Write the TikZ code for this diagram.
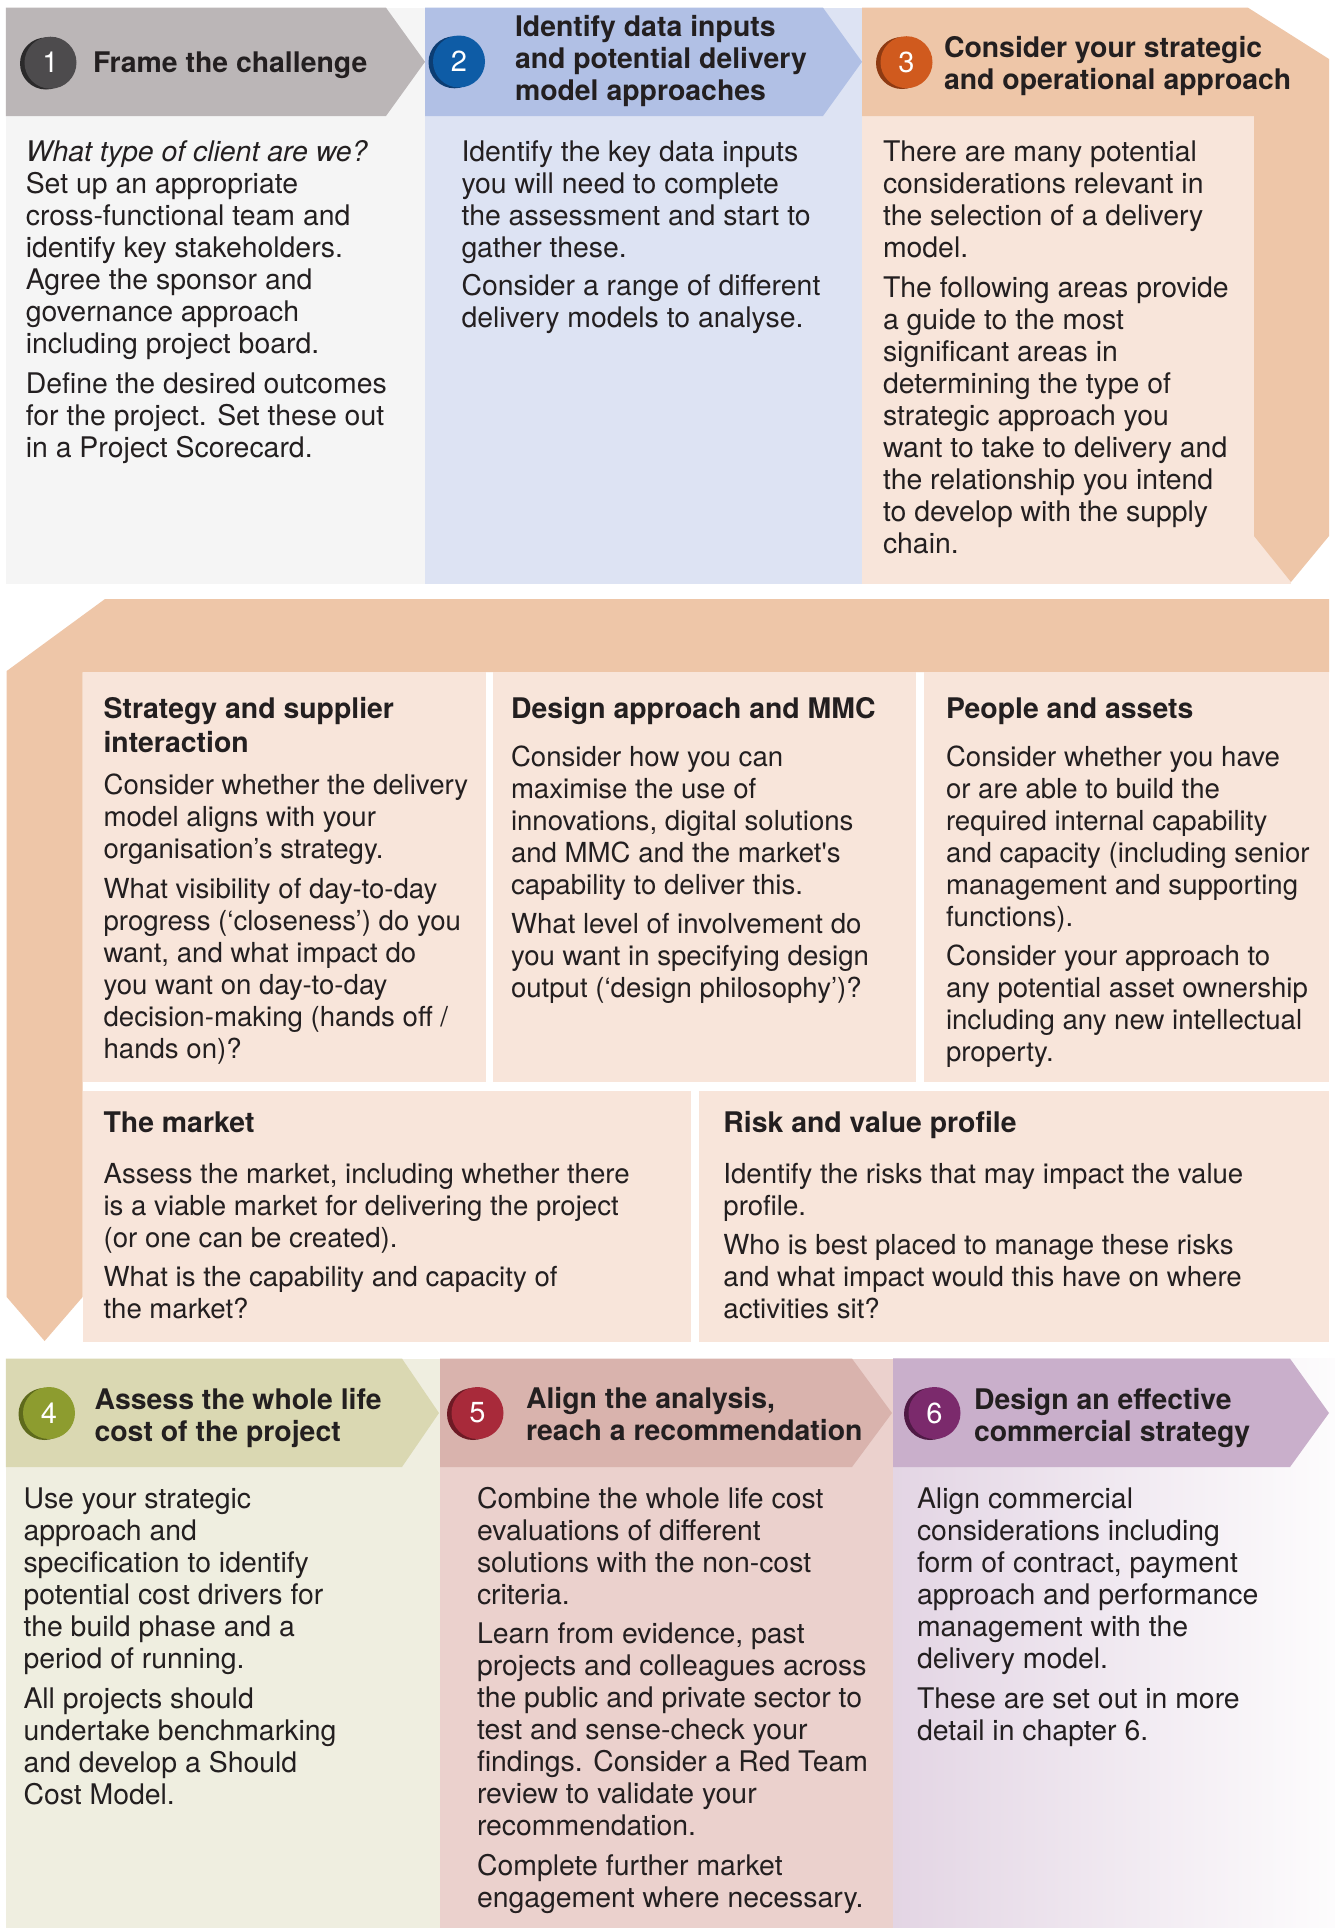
\documentclass[tikz,border=0pt]{standalone}
\usepackage{fontspec}
\setmainfont{TeX Gyre Heros}
\definecolor{ink}{HTML}{231F20}
\definecolor{hdrA}{HTML}{BBB6B7}
\definecolor{bodA}{HTML}{F5F5F5}
\definecolor{cirA}{HTML}{4D4B4D}
\definecolor{shdA}{HTML}{2B2A2B}
\definecolor{hdrB}{HTML}{B1C0E5}
\definecolor{bodB}{HTML}{DDE3F3}
\definecolor{cirB}{HTML}{0E5CA6}
\definecolor{shdB}{HTML}{0C3D73}
\definecolor{tan}{HTML}{EEC6A8}
\definecolor{pale}{HTML}{F8E5DA}
\definecolor{cirC}{HTML}{D05A1E}
\definecolor{shdC}{HTML}{8E3A12}
\definecolor{hdrD}{HTML}{DAD8B2}
\definecolor{bodD}{HTML}{EFEEE0}
\definecolor{cirD}{HTML}{8D9C2F}
\definecolor{shdD}{HTML}{5E6A1C}
\definecolor{hdrE}{HTML}{D9B3AD}
\definecolor{bodE}{HTML}{EBD1CD}
\definecolor{cirE}{HTML}{A82A3A}
\definecolor{shdE}{HTML}{6E1A25}
\definecolor{hdrF}{HTML}{C9AFCB}
\definecolor{bodF}{HTML}{E3D5E4}
\definecolor{bodFr}{HTML}{FDFCFD}
\definecolor{cirF}{HTML}{7B2A6C}
\definecolor{shdF}{HTML}{4F1A45}
\newcommand\bodyfnt{\fontsize{28.4pt}{32pt}\selectfont}
\newcommand\boxfnt{\fontsize{27.6pt}{32pt}\selectfont}
\newcommand\hdrfnt{\fontsize{28.4pt}{32pt}\selectfont\bfseries}
\newcommand\numfnt{\fontsize{29pt}{29pt}\selectfont}
\begin{document}
\begin{tikzpicture}[x=1pt,y=-1pt,
  txt/.style={anchor=north west, inner sep=0pt, outer sep=0pt, align=left, text=ink},
  bodytxt/.style={txt, font=\bodyfnt},
  boxtxt/.style={txt, font=\boxfnt},
  hdrtxt/.style={txt, font=\hdrfnt},
  numc/.style={circle, minimum size=52pt, inner sep=0pt, text=white, font=\numfnt}]
\useasboundingbox (0,0) rectangle (1335,1928);
\fill[white] (0,0) rectangle (1335,1928);

% ---------- top row ----------
\fill[bodA] (5.8,7.7) rectangle (425,583.6);
\fill[hdrA] (5.8,7.7) -- (386,7.7) -- (425,61.8) -- (386,116) -- (5.8,116) -- cycle;
\fill[bodB] (425,7.7) rectangle (862,583.6);
\fill[hdrB] (425,7.7) -- (823,7.7) -- (862,61.8) -- (823,116) -- (425,116) -- cycle;
\fill[pale] (862,116) rectangle (1291,583.6);
\fill[tan] (862,7.7) -- (1248,7.7) -- (1329,59) -- (1329,536) -- (1291,582) -- (1254,536) -- (1254,116) -- (862,116) -- cycle;

% ---------- middle band ----------
\fill[tan] (105,599) -- (1329,599) -- (1329,672) -- (82.6,672) -- (82.6,1297) -- (44.6,1341) -- (6.7,1297) -- (6.7,671) -- cycle;
\fill[pale] (82.6,672) rectangle (485.7,1082);
\fill[pale] (493,672) rectangle (915.6,1082);
\fill[pale] (924,672) rectangle (1329,1082);
\fill[pale] (82.6,1091) rectangle (691,1342);
\fill[pale] (699,1091) rectangle (1329,1342);

% ---------- bottom row ----------
\fill[bodD] (5.8,1358.6) rectangle (440,1928);
\fill[hdrD] (5.8,1358.6) -- (402,1358.6) -- (439,1413) -- (402,1467) -- (5.8,1467) -- cycle;
\fill[bodE] (440,1358.6) rectangle (893,1928);
\fill[hdrE] (440,1358.6) -- (852,1358.6) -- (892,1413) -- (852,1467) -- (440,1467) -- cycle;
\shade[left color=bodF, right color=bodFr] (893,1358.6) rectangle (1335,1928);
\fill[hdrF] (893,1358.6) -- (1290,1358.6) -- (1329,1413) -- (1290,1467) -- (893,1467) -- cycle;

% ---------- number circles ----------
\fill[shdA] (46,63.5) circle (26pt);
\node[numc, fill=cirA] (c1) at (50.5,62.7) {1};
\fill[shdB] (454.5,62.3) circle (26pt);
\node[numc, fill=cirB] (c2) at (459,61.5) {2};
\fill[shdC] (902,63) circle (26pt);
\node[numc, fill=cirC] (c3) at (906.5,62.2) {3};
\fill[shdD] (44.5,1414) circle (26pt);
\node[numc, fill=cirD] (c4) at (49,1413) {4};
\fill[shdE] (473,1414) circle (26pt);
\node[numc, fill=cirE] (c5) at (477.5,1413) {5};
\fill[shdF] (930,1414) circle (26pt);
\node[numc, fill=cirF] (c6) at (934.5,1413) {6};

% ---------- header texts ----------
\node[hdrtxt] (h1) at (93,50.3) {\strut Frame the challenge};
\node[hdrtxt] (h2) at (515,14.2) {\strut Identify data inputs\\and potential delivery\\model approaches};
\node[hdrtxt] (h3) at (944,35.4) {\strut Consider your strategic\\and operational approach};
\node[hdrtxt] (h4) at (94.6,1387.4) {\strut Assess the whole life\\cost of the project};
\node[hdrtxt] (h5) at (526,1386) {\strut Align the analysis,\\reach a recommendation};
\node[hdrtxt] (h6) at (974,1387.4) {\strut Design an effective\\commercial strategy};

% ---------- top row body texts ----------
\node[bodytxt] (t1) at (25.8,138.6) {\strut\textit{What type of client are we?}\\
Set up an appropriate\\
cross-functional team and\\
identify key stakeholders.\\
Agree the sponsor and\\
governance approach\\
including project board.\\[8pt]
Define the desired outcomes\\
for the project. Set these out\\
in a Project Scorecard.};
\node[bodytxt] (t2) at (461.5,138.6) {\strut Identify the key data inputs\\
you will need to complete\\
the assessment and start to\\
gather these.\\[6pt]
Consider a range of different\\
delivery models to analyse.};
\node[bodytxt] (t3) at (883,138.6) {\strut There are many potential\\
considerations relevant in\\
the selection of a delivery\\
model.\\[8pt]
The following areas provide\\
a guide to the most\\
significant areas in\\
determining the type of\\
strategic approach you\\
want to take to delivery and\\
the relationship you intend\\
to develop with the supply\\
chain.};

% ---------- middle boxes ----------
\node[hdrtxt] (m1h) at (103.6,696.3) {\strut Strategy and supplier\\[2pt]interaction};
\node[boxtxt] (m1b) at (103.6,772.4) {\strut Consider whether the delivery\\
model aligns with your\\
organisation’s strategy.\\[8pt]
What visibility of day-to-day\\
progress (‘closeness’) do you\\
want, and what impact do\\
you want on day-to-day\\
decision-making (hands off /\\
hands on)?};
\node[hdrtxt] (m2h) at (511,696.3) {\strut Design approach and MMC};
\node[boxtxt] (m2b) at (511,744.4) {\strut Consider how you can\\
maximise the use of\\
innovations, digital solutions\\
and MMC and the market\textquotesingle s\\
capability to deliver this.\\[7pt]
What level of involvement do\\
you want in specifying design\\
output (‘design philosophy’)?};
\node[hdrtxt] (m3h) at (946,696.3) {\strut People and assets};
\node[boxtxt] (m3b) at (946,744.4) {\strut Consider whether you have\\
or are able to build the\\
required internal capability\\
and capacity (including senior\\
management and supporting\\
functions).\\[7pt]
Consider your approach to\\
any potential asset ownership\\
including any new intellectual\\
property.};
\node[hdrtxt] (m4h) at (103.6,1110.3) {\strut The market};
\node[boxtxt] (m4b) at (103.6,1160.6) {\strut Assess the market, including whether there\\
is a viable market for delivering the project\\
(or one can be created).\\[7pt]
What is the capability and capacity of\\
the market?};
\node[hdrtxt] (m5h) at (723.4,1110.3) {\strut Risk and value profile};
\node[boxtxt] (m5b) at (723.4,1160.6) {\strut Identify the risks that may impact the value\\
profile.\\[7pt]
Who is best placed to manage these risks\\
and what impact would this have on where\\
activities sit?};

% ---------- bottom row body texts ----------
\node[bodytxt] (t4) at (23.5,1485.6) {\strut Use your strategic\\
approach and\\
specification to identify\\
potential cost drivers for\\
the build phase and a\\
period of running.\\[8pt]
All projects should\\
undertake benchmarking\\
and develop a Should\\
Cost Model.};
\node[bodytxt] (t5) at (477,1485.6) {\strut Combine the whole life cost\\
evaluations of different\\
solutions with the non-cost\\
criteria.\\[7pt]
Learn from evidence, past\\
projects and colleagues across\\
the public and private sector to\\
test and sense-check your\\
findings. Consider a Red Team\\
review to validate your\\
recommendation.\\[8pt]
Complete further market\\
engagement where necessary.};
\node[bodytxt] (t6) at (917,1485.6) {\strut Align commercial\\
considerations including\\
form of contract, payment\\
approach and performance\\
management with the\\
delivery model.\\[8pt]
These are set out in more\\
detail in chapter 6.};
\end{tikzpicture}
\end{document}
